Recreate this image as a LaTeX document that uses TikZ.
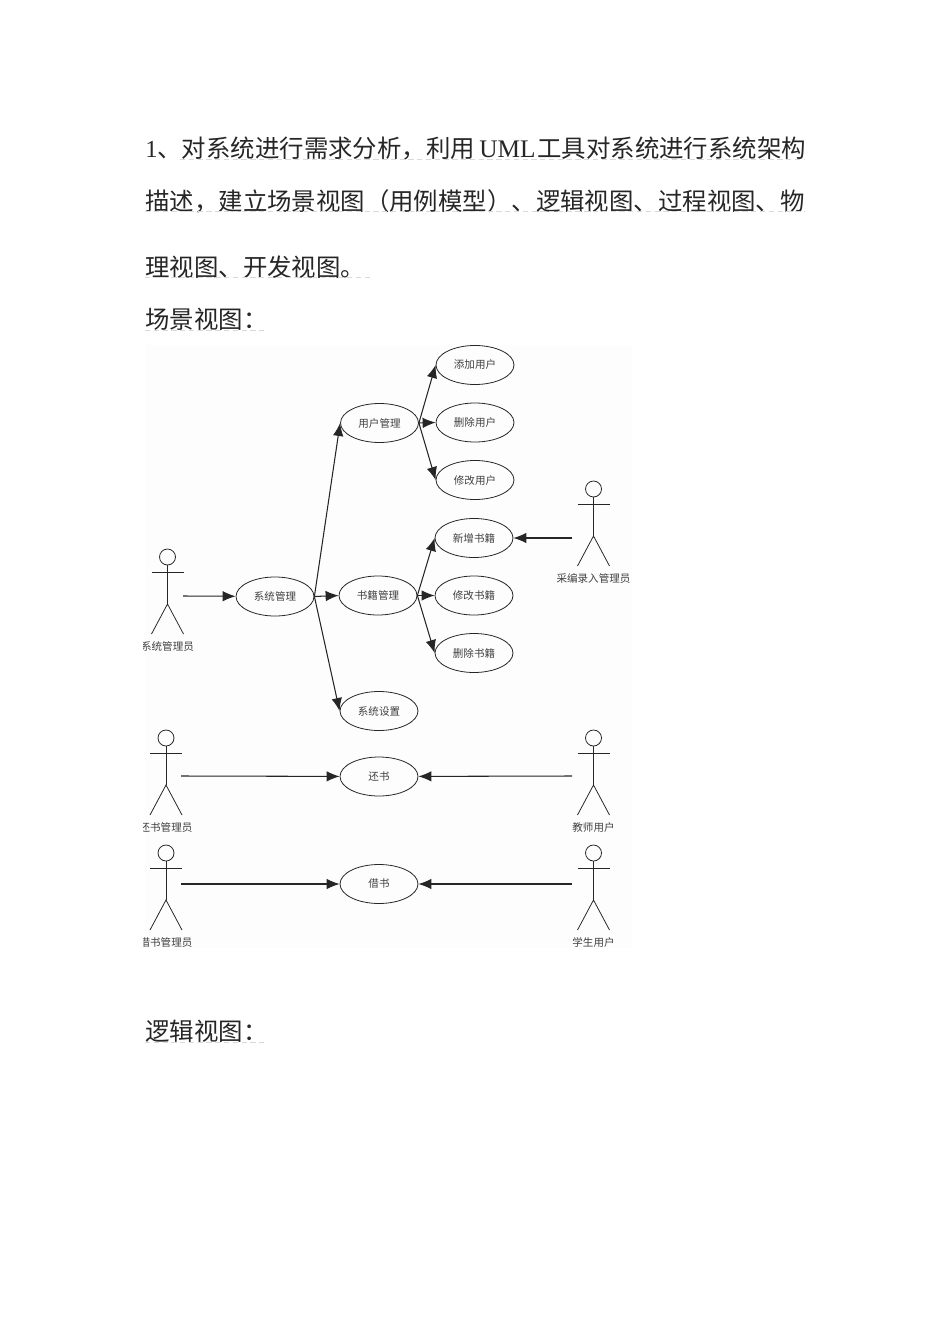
\documentclass[tikz,border=0pt]{standalone}
\usepackage{fontspec}
\usepackage{tikz}
\usetikzlibrary{arrows.meta,shapes.geometric}
\setmainfont{Liberation Serif}
\newfontfamily\cjk{Noto Sans CJK SC}

\tikzset{
  body/.style={anchor=west,inner sep=0pt,font=\fontsize{13.9pt}{16pt}\selectfont\cjk,text=black!85},
  usecase/.style={ellipse,draw=black!85,line width=0.45pt,minimum width=1.56cm,minimum height=0.78cm,inner sep=0pt,font=\fontsize{6pt}{7pt}\selectfont\cjk,text=black!75},
  actorlabel/.style={inner sep=0pt,font=\fontsize{6pt}{7pt}\selectfont\cjk,text=black!75},
  head/.style={circle,draw=black!85,line width=0.45pt,minimum size=0.32cm,inner sep=0pt},
  limb/.style={draw=black!85,line width=0.45pt},
  assoc/.style={draw=black!85,line width=0.6pt,-{Latex[length=0.26cm,width=0.21cm]}},
  spell/.style={draw=black!15,line width=0.4pt,dash pattern=on 3pt off 2pt}
}

% #1 name, #2 x, #3 y of the head, #4 label
\newcommand{\actorfig}[4]{
  \node[head] (#1) at (#2,#3) {};
  \coordinate (#1waist) at (#2,#3+47);
  \draw[limb] (#1) -- (#1waist);
  \draw[limb] (#2-16,#3+15) -- (#2+16,#3+15);
  \draw[limb] (#2-16,#3+77) -- (#1waist) -- (#2+16,#3+77);
  \node[actorlabel] (#1label) at (#2,#3+89) {#4};
}

\begin{document}
\begin{tikzpicture}[x=0.02cm,y=-0.02cm]
\useasboundingbox (0,0) rectangle (950,1344);

% text lines
\node[body] (line1) at (145,149) {{\rmfamily 1}、对系统进行需求分析，利用{\rmfamily\fontsize{14.4pt}{16pt}\selectfont\kern2.5pt UML\kern1pt}工具对系统进行系统架构};
\node[body] (line2) at (145,201) {描述，建立场景视图（用例模型）、逻辑视图、过程视图、物};
\node[body] (line3) at (145,267) {理视图、开发视图。};
\node[body] (line4) at (145,319) {场景视图：};
\node[body] (line5) at (145,1031) {逻辑视图：};
\draw[spell] (180,159) -- (805,159);
\draw[spell] (145,211) -- (805,211);
\draw[spell] (145,277) -- (372,277);
\draw[spell] (145,330) -- (264,330);
\draw[spell] (145,1042) -- (264,1042);

\fill[black!0.7] (145,345) rectangle (632,948);

\begin{scope}
\clip (143,340) rectangle (632,948);

% use cases
\node[usecase] (sysmgr) at (275,596.5) {系统管理};
\node[usecase] (usermgr) at (379.5,423) {用户管理};
\node[usecase] (bookmgr) at (378,595.5) {书籍管理};
\node[usecase] (sysset) at (379,711) {系统设置};
\node[usecase] (useradd) at (475,365) {添加用户};
\node[usecase] (userdel) at (475,422.5) {删除用户};
\node[usecase] (usermod) at (475,480) {修改用户};
\node[usecase] (bookadd) at (474,538) {新增书籍};
\node[usecase] (bookmod) at (474,595.5) {修改书籍};
\node[usecase] (bookdel) at (474,653) {删除书籍};
\node[usecase] (giveback) at (379,776.5) {还书};
\node[usecase] (borrow) at (379,884) {借书};

% actors
\actorfig{admin}{167.5}{557}{系统管理员}
\actorfig{editor}{593.5}{489}{采编录入管理员}
\actorfig{backclerk}{166}{738}{还书管理员}
\actorfig{teacher}{593.5}{738}{教师用户}
\actorfig{lendclerk}{166}{853}{借书管理员}
\actorfig{student}{593.5}{853}{学生用户}

% free ends of the actor arrows
\coordinate (adminhand) at (183,596);
\coordinate (editorhand) at (572,538);
\coordinate (backhand) at (181,776);
\coordinate (teacherhand) at (572,776);
\coordinate (lendhand) at (181,884);
\coordinate (studenthand) at (572,884);

\draw[assoc] (adminhand) -- (sysmgr);
\draw[assoc] (sysmgr.east) -- (usermgr.west);
\draw[assoc] (sysmgr.east) -- (bookmgr.west);
\draw[assoc] (sysmgr.east) -- (sysset.west);
\draw[assoc] (usermgr.east) -- (useradd.west);
\draw[assoc] (usermgr.east) -- (userdel.west);
\draw[assoc] (usermgr.east) -- (usermod.west);
\draw[assoc] (bookmgr.east) -- (bookadd.west);
\draw[assoc] (bookmgr.east) -- (bookmod.west);
\draw[assoc] (bookmgr.east) -- (bookdel.west);
\draw[assoc] (editorhand) -- (bookadd);
\draw[assoc] (backhand) -- (giveback);
\draw[assoc] (teacherhand) -- (giveback);
\draw[assoc] (lendhand) -- (borrow);
\draw[assoc] (studenthand) -- (borrow);
\end{scope}
\end{tikzpicture}
\end{document}
